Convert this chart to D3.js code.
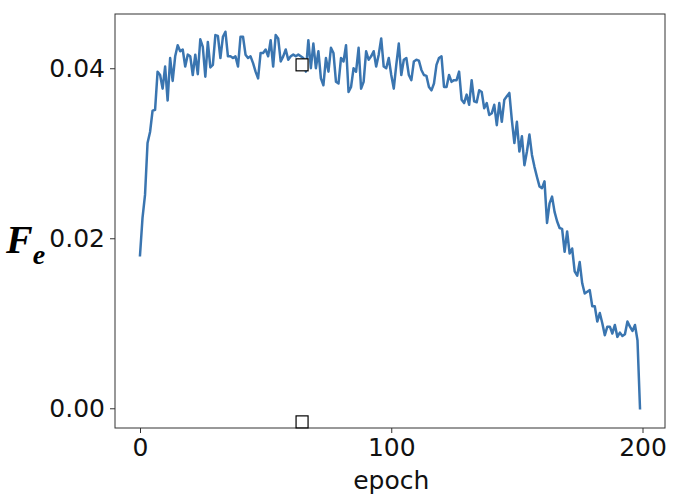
<!DOCTYPE html>
<html><head><meta charset="utf-8">
<script src="https://cdn.jsdelivr.net/npm/d3@7"></script>
<style>body{margin:0;background:#fff}</style>
</head><body>
<svg id="c" width="680" height="504"></svg>
<script>
const values = [
0.0180,0.0224,0.0251,0.0312,0.0325,0.0350,0.0351,0.0396,0.0392,0.0376,
0.0402,0.0362,0.0412,0.0385,0.0414,0.0427,0.0420,0.0422,0.0402,0.0416,
0.0414,0.0392,0.0416,0.0393,0.0434,0.0425,0.0390,0.0431,0.0401,0.0404,
0.0439,0.0438,0.0412,0.0437,0.0443,0.0414,0.0414,0.0412,0.0414,0.0402,
0.0437,0.0437,0.0416,0.0412,0.0414,0.0406,0.0396,0.0388,0.0418,0.0418,
0.0422,0.0414,0.0433,0.0402,0.0439,0.0435,0.0408,0.0414,0.0422,0.0410,
0.0414,0.0416,0.0414,0.0416,0.0414,0.0412,0.0396,0.0433,0.0400,0.0429,
0.0400,0.0420,0.0388,0.0380,0.0412,0.0396,0.0424,0.0418,0.0384,0.0382,
0.0412,0.0408,0.0427,0.0372,0.0378,0.0400,0.0396,0.0424,0.0376,0.0384,
0.0420,0.0410,0.0414,0.0420,0.0402,0.0416,0.0435,0.0402,0.0400,0.0412,
0.0392,0.0376,0.0404,0.0429,0.0392,0.0410,0.0412,0.0392,0.0386,0.0408,
0.0410,0.0409,0.0398,0.0392,0.0391,0.0378,0.0374,0.0382,0.0404,0.0412,
0.0414,0.0378,0.0378,0.0392,0.0384,0.0386,0.0386,0.0396,0.0363,0.0359,
0.0369,0.0357,0.0386,0.0361,0.0360,0.0374,0.0372,0.0353,0.0359,0.0345,
0.0347,0.0357,0.0333,0.0359,0.0337,0.0363,0.0367,0.0371,0.0339,0.0312,
0.0337,0.0302,0.0320,0.0286,0.0302,0.0322,0.0298,0.0284,0.0272,0.0261,
0.0259,0.0267,0.0218,0.0241,0.0249,0.0231,0.0220,0.0212,0.0211,0.0184,
0.0208,0.0182,0.0188,0.0161,0.0156,0.0172,0.0147,0.0135,0.0137,0.0139,
0.0120,0.0120,0.0102,0.0112,0.0100,0.0086,0.0096,0.0096,0.0088,0.0098,
0.0084,0.0089,0.0085,0.0087,0.0102,0.0096,0.0091,0.0098,0.0080,0.0000
];
const epochs = values.map((v,i)=>i);
const xTicks = [0,100,200];
const yTicks = [0.00,0.02,0.04];
const markerEpochs = [64.5,64.5];
const markerValues = [0.0404,-0.0016];

const svg = d3.select("#c");
const L=115,R=665,T=14,B=428;
const x = d3.scaleLinear().domain([-9.95,208.95]).range([L,R]);
const y = d3.scaleLinear().domain([-0.00232,0.04638]).range([B,T]);
const axisColor="#333";

const line = d3.line().x((d,i)=>x(epochs[i])).y(d=>y(d));
svg.append("path").datum(values).attr("d",line)
  .attr("fill","none").attr("stroke","#3a75b0").attr("stroke-width",2.5)
  .attr("stroke-linejoin","round").attr("stroke-linecap","square");

svg.append("rect").attr("x",L).attr("y",T).attr("width",R-L).attr("height",B-T)
  .attr("fill","none").attr("stroke",axisColor).attr("stroke-width",1);

const xa = svg.append("g").attr("transform",`translate(0,${B})`)
  .call(d3.axisBottom(x).tickValues(xTicks).tickSize(5).tickPadding(5).tickFormat(d3.format("d")));
const ya = svg.append("g").attr("transform",`translate(${L},0)`)
  .call(d3.axisLeft(y).tickValues(yTicks).tickSize(5).tickPadding(5).tickFormat(d3.format(".2f")));
[xa,ya].forEach(g=>{
  g.select(".domain").remove();
  g.selectAll("line").attr("stroke",axisColor);
  g.selectAll("text").attr("fill","#111").style("font-family","DejaVu Sans").style("font-size","25px");
});

svg.selectAll("rect.mk").data(markerValues).enter().append("rect").attr("class","mk")
  .attr("x",(d,i)=>x(markerEpochs[i])-6).attr("y",d=>y(d)-6)
  .attr("width",12).attr("height",12).attr("fill","#fff").attr("stroke","#000").attr("stroke-width",1.2);

svg.append("text").attr("x",x(100)).attr("y",489).attr("text-anchor","middle")
  .style("font-family","DejaVu Sans").style("font-size","25px").attr("fill","#111").text("epoch");

const yl = svg.append("text").attr("x",6).attr("y",253)
  .style("font-family","Liberation Serif").style("font-style","italic").style("font-weight","bold").attr("fill","#000");
yl.append("tspan").style("font-size","40px").text("F");
yl.append("tspan").style("font-size","28px").attr("dy",11).text("e");
</script>
</body></html>
